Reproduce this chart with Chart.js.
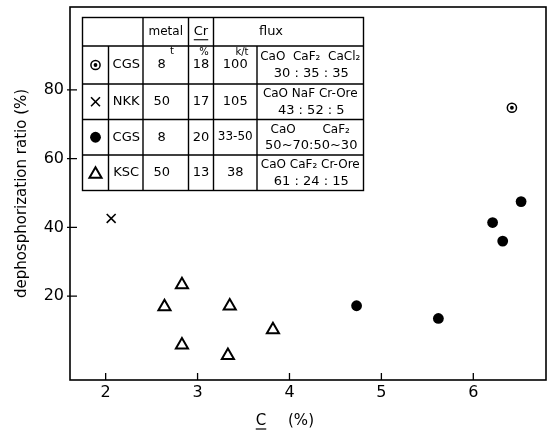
<!DOCTYPE html>
<html>
<head>
<meta charset="utf-8">
<script src="https://cdn.jsdelivr.net/npm/chart.js"></script>
<style>
html,body{margin:0;padding:0;background:#fff;}
#wrap{width:548px;height:432px;}
</style>
</head>
<body>
<div id="wrap"><canvas id="c" width="548" height="432"></canvas></div>
<script>
// ---- data ----
const xTicks = [2, 3, 4, 5, 6];
const yTicks = [20, 40, 60, 80];

// CGS (circle with dot)
const cgsDotX = [6.42];
const cgsDotY = [74.8];
// NKK (cross)
const nkkX = [2.06];
const nkkY = [42.6];
// CGS (filled circle)
const cgsX = [6.52, 6.21, 6.32, 5.62, 4.73];
const cgsY = [47.5, 41.4, 36.0, 13.5, 17.2];
// KSC (open triangle)
const kscX = [2.64, 2.83, 3.35, 3.82, 2.83, 3.33];
const kscY = [16.9, 23.3, 17.1, 10.2, 5.8, 2.7];

// table contents
const tableHeader = ['metal', 'Cr', 'flux'];
const tableSites = ['CGS', 'NKK', 'CGS', 'KSC'];
const tableMetal = ['8', '50', '8', '50'];
const tableCr = ['18', '17', '20', '13'];
const tableFluxAmt = ['100', '105', '33-50', '38'];
const tableFluxComp = ['CaO  CaF\u2082  CaCl\u2082', 'CaO NaF Cr-Ore', 'CaO       CaF\u2082', 'CaO CaF\u2082 Cr-Ore'];
const tableFluxRatio = ['30 : 35 : 35', '43 : 52 : 5', '50~70:50~30', '61 : 24 : 15'];

const xTitle = ['C', '(%)'];
const yTitle = 'dephosphorization ratio (%)';

const pts = (xs, ys) => xs.map((x, i) => ({x: x, y: ys[i]}));
const FONT = '"DejaVu Sans", sans-serif';

const datasets = [
  {label: 'CGS dot centre', order: 0, data: pts(cgsDotX, cgsDotY), pointStyle: 'circle', pointRadius: 1.9,
   pointBorderWidth: 0, pointBackgroundColor: '#000', pointBorderColor: '#000'},
  {label: 'CGS dot ring', order: 1, data: pts(cgsDotX, cgsDotY), pointStyle: 'circle', pointRadius: 4.6,
   pointBorderWidth: 1.5, pointBackgroundColor: '#fff', pointBorderColor: '#000'},
  {label: 'NKK', order: 0, data: pts(nkkX, nkkY), pointStyle: 'crossRot', pointRadius: 6.3,
   pointBorderWidth: 1.6, pointBackgroundColor: '#000', pointBorderColor: '#000'},
  {label: 'CGS', order: 0, data: pts(cgsX, cgsY), pointStyle: 'circle', pointRadius: 5.4,
   pointBorderWidth: 0, pointBackgroundColor: '#000', pointBorderColor: '#000'},
  {label: 'KSC', order: 0, data: pts(kscX, kscY), pointStyle: 'triangle', pointRadius: 7,
   pointBorderWidth: 2, pointBackgroundColor: '#fff', pointBorderColor: '#000'}
];

const decorPlugin = {
  id: 'decor',
  afterDraw(chart) {
    const ctx = chart.ctx;
    const a = chart.chartArea;
    const xs = chart.scales.x, ys = chart.scales.y;
    ctx.save();
    ctx.strokeStyle = '#000';
    ctx.fillStyle = '#000';
    // frame
    ctx.lineWidth = 1.6;
    ctx.strokeRect(a.left, a.top, a.right - a.left, a.bottom - a.top);
    // inward ticks
    ctx.lineWidth = 1.3;
    ctx.beginPath();
    xs.ticks.forEach(t => {
      const px = xs.getPixelForValue(t.value);
      ctx.moveTo(px, a.bottom); ctx.lineTo(px, a.bottom - 7);
    });
    ys.ticks.forEach(t => {
      const py = ys.getPixelForValue(t.value);
      ctx.moveTo(a.left - 3, py); ctx.lineTo(a.left + 7, py);
    });
    ctx.stroke();

    // x title: underlined C and (%)
    ctx.font = '15px ' + FONT;
    ctx.textAlign = 'center';
    ctx.textBaseline = 'middle';
    const cx = 261, ty = 421;
    ctx.fillText(xTitle[0], cx, ty);
    const cw = ctx.measureText(xTitle[0]).width;
    ctx.lineWidth = 1.2;
    ctx.beginPath(); ctx.moveTo(cx - cw / 2, ty + 8); ctx.lineTo(cx + cw / 2, ty + 8); ctx.stroke();
    ctx.fillText(xTitle[1], 301, ty);

    // table
    const colX = [82.5, 108.5, 143, 188.5, 213.5, 257, 363.5];
    const rowY = [17.5, 46, 84, 119.5, 155, 190.5];
    ctx.fillStyle = '#fff';
    ctx.fillRect(colX[0], rowY[0], colX[6] - colX[0], rowY[5] - rowY[0]);
    ctx.fillStyle = '#000';
    ctx.lineWidth = 1.4;
    ctx.strokeRect(colX[0], rowY[0], colX[6] - colX[0], rowY[5] - rowY[0]);
    ctx.beginPath();
    for (let r = 1; r < 5; r++) { ctx.moveTo(colX[0], rowY[r]); ctx.lineTo(colX[6], rowY[r]); }
    [1, 5].forEach(c => { ctx.moveTo(colX[c], rowY[1]); ctx.lineTo(colX[c], rowY[5]); });
    [2, 3, 4].forEach(c => { ctx.moveTo(colX[c], rowY[0]); ctx.lineTo(colX[c], rowY[5]); });
    ctx.stroke();

    // header
    ctx.textAlign = 'center';
    ctx.textBaseline = 'middle';
    ctx.font = '12px ' + FONT;
    const hy = (rowY[0] + rowY[1]) / 2;
    ctx.fillText(tableHeader[0], (colX[2] + colX[3]) / 2, hy);
    ctx.font = '13px ' + FONT;
    const crx = (colX[3] + colX[4]) / 2;
    ctx.fillText(tableHeader[1], crx, hy);
    const crw = ctx.measureText(tableHeader[1]).width;
    ctx.lineWidth = 1.1;
    ctx.beginPath(); ctx.moveTo(crx - crw / 2, hy + 8); ctx.lineTo(crx + crw / 2, hy + 8); ctx.stroke();
    ctx.fillText(tableHeader[2], 271, hy);

    // marker column uses the datasets' own point styles (ring drawn before dot)
    const markerSets = [[1, 0], [2], [3], [4]];
    for (let r = 0; r < 4; r++) {
      const cy = (rowY[r + 1] + rowY[r + 2]) / 2;
      const mx = (colX[0] + colX[1]) / 2;
      markerSets[r].forEach(di => {
        const ds = chart.data.datasets[di];
        const opts = {pointStyle: ds.pointStyle, radius: ds.pointRadius, borderWidth: ds.pointBorderWidth, rotation: 0};
        ctx.fillStyle = ds.pointBackgroundColor;
        ctx.strokeStyle = ds.pointBorderColor;
        ctx.lineWidth = ds.pointBorderWidth;
        Chart.helpers.drawPoint(ctx, opts, mx, ds.pointStyle === 'triangle' ? cy + 1.5 : cy);
      });
      ctx.fillStyle = '#000';
      ctx.strokeStyle = '#000';
      ctx.font = '13px ' + FONT;
      ctx.textAlign = 'center';
      ctx.fillText(tableSites[r], (colX[1] + colX[2]) / 2 + 0.5, cy);
      ctx.fillText(tableMetal[r], (colX[2] + colX[3]) / 2 - 4, cy);
      ctx.fillText(tableCr[r], (colX[3] + colX[4]) / 2, cy);
      ctx.font = (tableFluxAmt[r].length > 3 ? '12px ' : '13px ') + FONT;
      ctx.fillText(tableFluxAmt[r], (colX[4] + colX[5]) / 2, cy);
      const fx = (colX[5] + colX[6]) / 2;
      const h = rowY[r + 2] - rowY[r + 1];
      ctx.font = '12px ' + FONT;
      ctx.fillText(tableFluxComp[r], fx, rowY[r + 1] + h * 0.28, colX[6] - colX[5] - 3);
      ctx.font = '13px ' + FONT;
      ctx.fillText(tableFluxRatio[r], fx + 1, rowY[r + 1] + h * 0.74, colX[6] - colX[5] - 4);
    }
    // units in first data row
    ctx.font = '10px ' + FONT;
    ctx.fillText('t', 172, rowY[1] + 5);
    ctx.fillText('%', 204, rowY[1] + 6);
    ctx.fillText('k/t', 242, rowY[1] + 6);
    ctx.restore();
  }
};

new Chart(document.getElementById('c'), {
  type: 'scatter',
  data: {datasets: datasets},
  options: {
    responsive: false,
    animation: false,
    devicePixelRatio: 1,
    layout: {autoPadding: false, padding: {top: 7, right: 2, left: 0, bottom: 0}},
    plugins: {legend: {display: false}, tooltip: {enabled: false}},
    scales: {
      x: {
        type: 'linear', min: 1.612, max: 6.791,
        afterBuildTicks: s => { s.ticks = xTicks.map(v => ({value: v})); },
        afterFit: s => { s.height = 52; s.paddingLeft = 0; s.paddingRight = 0; },
        grid: {display: false, drawTicks: false},
        border: {display: false},
        ticks: {color: '#000', font: {family: FONT, size: 16}, padding: 3, callback: v => String(v)},
        title: {display: false}
      },
      y: {
        type: 'linear', min: -4.4, max: 104.1,
        afterBuildTicks: s => { s.ticks = yTicks.map(v => ({value: v})); },
        afterFit: s => { s.width = 70; s.paddingTop = 0; s.paddingBottom = 0; },
        grid: {display: false, drawTicks: false},
        border: {display: false},
        ticks: {color: '#000', font: {family: FONT, size: 16}, padding: 6, callback: v => String(v)},
        title: {display: true, text: yTitle, color: '#000', font: {family: FONT, size: 15}, padding: {top: 13, bottom: 0}}
      }
    }
  },
  plugins: [decorPlugin]
});
</script>
</body>
</html>
